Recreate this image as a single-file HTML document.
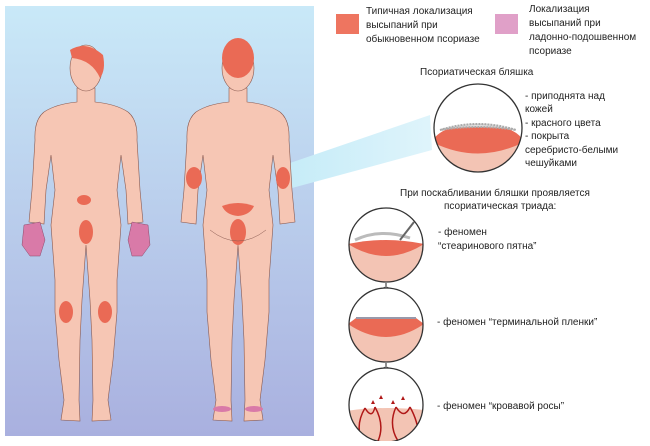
<!DOCTYPE html>
<html><head><meta charset="utf-8"><style>
body{margin:0;width:650px;height:441px;background:#fff;overflow:hidden;font-family:"Liberation Sans",sans-serif}
svg text{font-family:"Liberation Sans",sans-serif;font-size:10px;fill:#222}
</style></head><body>
<svg width="650" height="441" viewBox="0 0 650 441">
<defs>
<linearGradient id="bg" x1="0" y1="0" x2="0" y2="1"><stop offset="0" stop-color="#c9e9f8"/><stop offset="1" stop-color="#a9b0df"/></linearGradient>
<linearGradient id="beam" x1="0" y1="0" x2="1" y2="0"><stop offset="0" stop-color="#c6ecf8"/><stop offset="1" stop-color="#dff4fb"/></linearGradient>
<g id="body">
<path d="M-9,88 L-9,102 Q-30,104 -42,112 Q-52,120 -51,140 L-54,190 L-57,222 L-42,224 L-40,190 L-35,155 L-31,190 L-35,225 L-31,280 L-31,312 L-27,360 L-22,400 L-25,420 L-6,421 L-7,400 L-6,340 L-4,300 L0,245 L4,300 L6,340 L7,400 L6,421 L25,420 L22,400 L27,360 L31,312 L31,280 L35,225 L31,190 L35,155 L40,190 L42,224 L57,222 L54,190 L51,140 Q52,120 42,112 Q30,104 9,102 L9,88 Z" fill="#f6c6b4" stroke="#8a5a50" stroke-width="0.6"/>
<ellipse cx="0" cy="68" rx="16" ry="23" fill="#f6c6b4" stroke="#8a5a50" stroke-width="0.6"/>
</g>
<clipPath id="c1"><circle cx="478" cy="128" r="44"/></clipPath>
<clipPath id="c2"><circle cx="386" cy="245" r="37"/></clipPath>
<clipPath id="c3"><circle cx="386" cy="325" r="37"/></clipPath>
<clipPath id="c4"><circle cx="386" cy="405" r="37"/></clipPath>
</defs>
<rect x="5" y="6" width="309" height="430" fill="url(#bg)"/>
<polygon points="290,163 430,115 432,150 292,188" fill="url(#beam)"/>
<!-- front -->
<use href="#body" transform="translate(86,0)"/>
<path d="M70,50 Q86,40 103,55 Q106,70 100,78 Q92,60 72,58 Z" fill="#ea6a55"/>
<ellipse cx="84" cy="200" rx="7" ry="5" fill="#ea6a55"/>
<ellipse cx="86" cy="232" rx="7" ry="12" fill="#ea6a55"/>
<ellipse cx="66" cy="312" rx="7" ry="11" fill="#ea6a55"/>
<ellipse cx="105" cy="312" rx="7" ry="11" fill="#ea6a55"/>
<path d="M24,225 L40,222 L45,240 L40,256 L30,256 L22,245 Z" fill="#d97aa8" stroke="#8a4a6a" stroke-width="0.5"/>
<path d="M132,222 L148,225 L150,245 L142,256 L132,256 L128,240 Z" fill="#d97aa8" stroke="#8a4a6a" stroke-width="0.5"/>
<!-- back -->
<use href="#body" transform="translate(238,0)"/>
<ellipse cx="238" cy="58" rx="16" ry="20" fill="#ea6a55"/>
<ellipse cx="194" cy="178" rx="8" ry="11" fill="#ea6a55"/>
<ellipse cx="283" cy="178" rx="7" ry="11" fill="#ea6a55"/>
<path d="M222,206 Q238,200 254,206 Q250,215 238,216 Q226,215 222,206 Z" fill="#ea6a55"/>
<ellipse cx="238" cy="232" rx="8" ry="13" fill="#ea6a55"/>
<path d="M210,230 Q238,252 266,230" fill="none" stroke="#8a5a50" stroke-width="0.5"/>
<ellipse cx="222" cy="409" rx="9" ry="3" fill="#d97aa8"/>
<ellipse cx="254" cy="409" rx="9" ry="3" fill="#d97aa8"/>
<!-- legend -->
<rect x="336" y="14" width="23" height="20" fill="#ee7560"/>
<text x="366" y="14">Типичная локализация</text>
<text x="366" y="28">высыпаний при</text>
<text x="366" y="42">обыкновенном псориазе</text>
<rect x="495" y="14" width="23" height="20" fill="#e0a0c8"/>
<text x="529" y="12">Локализация</text>
<text x="529" y="26">высыпаний при</text>
<text x="529" y="40">ладонно-подошвенном</text>
<text x="529" y="54">псориазе</text>
<text x="420" y="75">Псориатическая бляшка</text>
<!-- circle 1 -->
<g clip-path="url(#c1)"><rect x="430" y="80" width="100" height="100" fill="#fff"/>
<path d="M430,142 Q478,128 526,142 L526,180 L430,180 Z" fill="#f3c4b4"/>
<path d="M432,142 Q440,125 478,124 Q516,125 524,142 Q478,165 432,142 Z" fill="#ea6a55"/>
<path d="M440,130 Q478,118 516,130 Q478,124 440,130 Z" fill="#ddd" stroke="#aaa" stroke-width="2" stroke-dasharray="2 1"/></g>
<circle cx="478" cy="128" r="44" fill="none" stroke="#333" stroke-width="1.3"/>
<text x="525" y="99">- приподнята над</text>
<text x="525" y="112">кожей</text>
<text x="525" y="126">- красного цвета</text>
<text x="525" y="139">- покрыта</text>
<text x="525" y="153">серебристо-белыми</text>
<text x="525" y="166">чешуйками</text>
<text x="400" y="196">При поскабливании бляшки проявляется</text>
<text x="444" y="209">псориатическая триада:</text>
<!-- circle 2 -->
<g clip-path="url(#c2)"><rect x="340" y="200" width="100" height="100" fill="#fff"/>
<path d="M340,244 L440,244 L440,290 L340,290 Z" fill="#f3c4b4"/>
<path d="M348,244 Q386,236 424,244 Q386,268 348,244 Z" fill="#ea6a55"/>
<path d="M355,240 Q380,228 410,238" fill="none" stroke="#bbb" stroke-width="3"/></g>
<line x1="400" y1="240" x2="414" y2="222" stroke="#666" stroke-width="2"/>
<circle cx="386" cy="245" r="37" fill="none" stroke="#333" stroke-width="1.3"/>
<text x="438" y="235">- феномен</text>
<text x="438" y="249">“стеаринового пятна”</text>
<path d="M386,283 V289 M384,287 L386,290 L388,287" stroke="#222" fill="none"/>
<!-- circle 3 -->
<g clip-path="url(#c3)"><rect x="340" y="280" width="100" height="100" fill="#fff"/>
<path d="M340,324 L440,324 L440,370 L340,370 Z" fill="#f3c4b4"/>
<path d="M348,324 L356,318 L416,318 L424,324 Q386,350 348,324 Z" fill="#ea6a55"/>
<line x1="356" y1="318" x2="416" y2="318" stroke="#99a" stroke-width="2"/></g>
<circle cx="386" cy="325" r="37" fill="none" stroke="#333" stroke-width="1.3"/>
<text x="437" y="325">- феномен “терминальной пленки”</text>
<path d="M386,363 V369 M384,367 L386,370 L388,367" stroke="#222" fill="none"/>
<!-- circle 4 -->
<g clip-path="url(#c4)"><rect x="340" y="360" width="100" height="100" fill="#fff"/>
<path d="M340,412 Q386,404 440,412 L440,450 L340,450 Z" fill="#f3c4b4"/>
<path d="M365,408 Q355,425 362,441 M375,407 Q385,425 378,441 M396,407 Q388,425 398,441 M410,407 Q420,425 418,441 M365,408 Q372,420 375,407 M396,407 Q404,420 410,407" fill="none" stroke="#b01818" stroke-width="1.5"/>
<path d="M373,400 l-2,4 h4z M381,395 l-2,4 h4z M393,400 l-2,4 h4z M403,396 l-2,4 h4z" fill="#b01818"/></g>
<circle cx="386" cy="405" r="37" fill="none" stroke="#333" stroke-width="1.3"/>
<text x="437" y="409">- феномен “кровавой росы”</text>
</svg>
</body></html>
